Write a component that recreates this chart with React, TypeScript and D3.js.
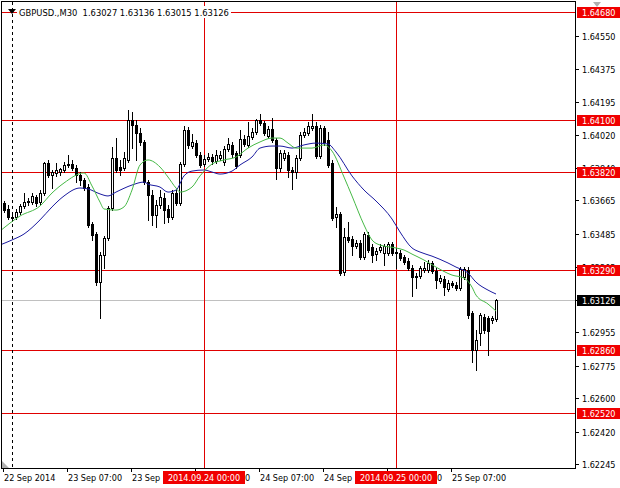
import React from 'react';
import * as d3 from 'd3';

const W = 620;
const H = 488;

const symbolTitle = 'GBPUSD.,M30  1.63027 1.63136 1.63015 1.63126';

const candleOpen = [
  1.63651,1.63619,1.63576,1.63576,1.63603,1.63635,1.63656,1.63656,1.63683,1.63656,
  1.63705,1.63867,1.63802,1.63813,1.63818,1.63829,1.63856,1.63861,1.63840,1.63802,
  1.63775,1.63737,1.63538,1.63484,1.63225,1.63371,1.63462,1.63624,1.63893,1.63845,
  1.63840,1.63883,1.64098,1.64071,1.64028,1.63980,1.63764,1.63694,1.63586,1.63640,
  1.63678,1.63619,1.63576,1.63705,1.63651,1.63861,1.64044,1.63958,1.63974,1.63910,
  1.63861,1.63888,1.63899,1.63877,1.63893,1.63872,1.63942,1.63964,1.63920,1.63910,
  1.63996,1.63964,1.64007,1.64034,1.64098,1.64082,1.64012,1.64050,1.63990,1.63840,
  1.63893,1.63910,1.63829,1.63818,1.63893,1.64017,1.64028,1.64055,1.64066,1.63904,
  1.64055,1.63990,1.63867,1.63576,1.63592,1.63279,1.63468,1.63457,1.63419,1.63436,
  1.63360,1.63479,1.63414,1.63376,1.63398,1.63382,1.63382,1.63430,1.63387,1.63382,
  1.63360,1.63339,1.63301,1.63252,1.63258,1.63290,1.63290,1.63328,1.63285,1.63231,
  1.63242,1.63188,1.63220,1.63209,1.63193,1.63252,1.63290,1.63058,1.62859,1.62951,
  1.63037,1.63031,1.63021,1.63027,
];
const candleHigh = [
  1.63662,1.63640,1.63592,1.63619,1.63646,1.63705,1.63678,1.63705,1.63694,1.63721,
  1.63872,1.63883,1.63829,1.63867,1.63840,1.63872,1.63910,1.63883,1.63856,1.63818,
  1.63786,1.63753,1.63549,1.63495,1.63387,1.63473,1.63635,1.63953,1.64001,1.63883,
  1.63926,1.64152,1.64141,1.64098,1.64055,1.63990,1.63775,1.63721,1.63667,1.63721,
  1.63705,1.63640,1.63721,1.63721,1.63872,1.64066,1.64060,1.64023,1.63990,1.63926,
  1.63910,1.63920,1.63915,1.63937,1.63931,1.63958,1.64001,1.63980,1.63931,1.64044,
  1.64017,1.64087,1.64055,1.64104,1.64131,1.64093,1.64066,1.64109,1.64001,1.63937,
  1.63937,1.63926,1.63845,1.63910,1.64034,1.64055,1.64087,1.64131,1.64087,1.64071,
  1.64066,1.64034,1.63883,1.63630,1.63603,1.63516,1.63549,1.63473,1.63452,1.63452,
  1.63495,1.63495,1.63430,1.63409,1.63430,1.63430,1.63441,1.63441,1.63409,1.63398,
  1.63371,1.63355,1.63317,1.63274,1.63312,1.63333,1.63344,1.63339,1.63301,1.63263,
  1.63258,1.63236,1.63231,1.63225,1.63306,1.63306,1.63306,1.63069,1.62967,1.63058,
  1.63053,1.63042,1.63042,1.63136,
];
const candleLow = [
  1.63603,1.63565,1.63554,1.63565,1.63592,1.63624,1.63640,1.63646,1.63635,1.63646,
  1.63694,1.63791,1.63732,1.63797,1.63802,1.63818,1.63845,1.63829,1.63764,1.63748,
  1.63721,1.63522,1.63452,1.63209,1.63031,1.63301,1.63452,1.63613,1.63818,1.63802,
  1.63829,1.63872,1.63947,1.63883,1.63964,1.63753,1.63560,1.63533,1.63522,1.63624,
  1.63543,1.63549,1.63565,1.63640,1.63640,1.63850,1.63947,1.63947,1.63899,1.63845,
  1.63850,1.63877,1.63861,1.63867,1.63883,1.63856,1.63931,1.63899,1.63840,1.63899,
  1.63958,1.63953,1.63996,1.64023,1.64071,1.64017,1.64001,1.63980,1.63780,1.63823,
  1.63883,1.63791,1.63727,1.63786,1.63883,1.64007,1.64017,1.64044,1.63893,1.63893,
  1.63964,1.63845,1.63560,1.63522,1.63263,1.63263,1.63441,1.63371,1.63409,1.63349,
  1.63349,1.63387,1.63333,1.63344,1.63387,1.63317,1.63371,1.63371,1.63301,1.63344,
  1.63322,1.63290,1.63150,1.63193,1.63247,1.63279,1.63279,1.63274,1.63193,1.63220,
  1.63155,1.63177,1.63198,1.63182,1.63182,1.63242,1.63031,1.62795,1.62751,1.62886,
  1.62951,1.62832,1.63005,1.63015,
];
const candleClose = [
  1.63613,1.63576,1.63570,1.63603,1.63635,1.63656,1.63662,1.63689,1.63651,1.63705,
  1.63867,1.63802,1.63818,1.63829,1.63834,1.63856,1.63861,1.63840,1.63802,1.63775,
  1.63732,1.63533,1.63479,1.63225,1.63371,1.63462,1.63624,1.63893,1.63829,1.63829,
  1.63893,1.64098,1.64071,1.64028,1.63980,1.63764,1.63694,1.63586,1.63640,1.63683,
  1.63613,1.63576,1.63705,1.63651,1.63861,1.64044,1.63964,1.63980,1.63910,1.63856,
  1.63888,1.63899,1.63877,1.63910,1.63910,1.63942,1.63969,1.63915,1.63850,1.63996,
  1.63969,1.64012,1.64034,1.64098,1.64082,1.64028,1.64050,1.63990,1.63840,1.63920,
  1.63920,1.63829,1.63818,1.63893,1.64017,1.64034,1.64066,1.64066,1.63904,1.64055,
  1.63980,1.63856,1.63570,1.63592,1.63274,1.63468,1.63452,1.63419,1.63436,1.63360,
  1.63484,1.63398,1.63371,1.63392,1.63414,1.63419,1.63430,1.63382,1.63382,1.63355,
  1.63333,1.63301,1.63252,1.63258,1.63301,1.63301,1.63328,1.63285,1.63236,1.63247,
  1.63198,1.63220,1.63209,1.63193,1.63295,1.63295,1.63048,1.62859,1.62913,1.63048,
  1.62967,1.62961,1.63031,1.63126,
];

// moving averages, read at selected bar indices
const fastMaBars = [-1,4,9,12,15,20,22,24,25,28,30,32,34,36,39,41,43,44,47,49,52,55,58,61,64,67,69,71,73,77,80,82,85,87,90,92,94,98,100,102,105,108,112,115,117,118,121,123];
const fastMaValues = [1.63500,1.63581,1.63635,1.63705,1.63759,1.63813,1.63743,1.63656,1.63619,1.63613,1.63630,1.63721,1.63856,1.63883,1.63845,1.63791,1.63732,1.63710,1.63737,1.63797,1.63861,1.63883,1.63899,1.63947,1.63980,1.64001,1.64001,1.63974,1.63947,1.63947,1.63964,1.63931,1.63791,1.63689,1.63533,1.63452,1.63425,1.63409,1.63398,1.63376,1.63344,1.63306,1.63263,1.63247,1.63198,1.63155,1.63107,1.63069];
const slowMaBars = [-1,2,5,9,12,15,19,21,24,26,28,32,35,36,39,41,43,45,47,50,52,54,57,59,62,64,67,69,72,75,78,81,83,87,90,93,97,99,102,104,107,111,113,116,118,121,123];
const slowMaValues = [1.63425,1.63452,1.63484,1.63560,1.63630,1.63689,1.63732,1.63727,1.63700,1.63689,1.63710,1.63748,1.63764,1.63753,1.63737,1.63710,1.63721,1.63797,1.63823,1.63829,1.63818,1.63807,1.63823,1.63856,1.63899,1.63947,1.63958,1.63958,1.63947,1.63964,1.63974,1.63969,1.63926,1.63797,1.63721,1.63662,1.63565,1.63495,1.63409,1.63387,1.63365,1.63328,1.63306,1.63274,1.63225,1.63182,1.63161];

const priceTicks = [1.6455, 1.64375, 1.64195, 1.6402, 1.6384, 1.63665, 1.63485, 1.63305, 1.6313, 1.62955, 1.62775, 1.626, 1.6242, 1.62245];
const levelLines = [1.6468, 1.641, 1.6382, 1.6329, 1.6286, 1.6252];
const bidPrice = 1.63126;

const timeTickBars = [0, 16, 32, 48, 64, 80, 96, 112];
const timeTickLabels = ['22 Sep 2014', '23 Sep 07:00', '23 Sep 15:00', '23 Sep 23:00', '24 Sep 07:00', '24 Sep 15:00', '24 Sep 23:00', '25 Sep 07:00'];
const dayLineBars = [50, 98];
const dayLineLabels = ['2014.09.24 00:00', '2014.09.25 00:00'];

const FONT = "Tahoma, 'DejaVu Sans Condensed', 'Liberation Sans', Arial, sans-serif";
const LINE_RED = '#e00000';
const BOX_RED = '#f00000';

export default function App() {
  const plotL = 2, plotR = 575, plotT = 2, plotB = 468;
  const x = d3.scaleLinear().domain([0, 123]).range([4, 496]);
  const y = d3.scaleLinear().domain([1.6468, 1.6252]).range([12, 413]);
  const py = (v: number) => Math.round(y(v));

  const fastLine = d3.line<number>()
    .x((_, i) => x(fastMaBars[i]))
    .y((d) => y(d))
    .curve(d3.curveMonotoneX)(fastMaValues) || '';
  const slowLine = d3.line<number>()
    .x((_, i) => x(slowMaBars[i]))
    .y((d) => y(d))
    .curve(d3.curveMonotoneX)(slowMaValues) || '';

  const candles = candleOpen.map((o, i) => {
    const c = candleClose[i];
    const h = candleHigh[i];
    const l = candleLow[i];
    const cx = Math.round(x(i));
    const top = py(Math.max(o, c));
    const bot = py(Math.min(o, c));
    const bull = c > o;
    return (
      <g key={i}>
        <line x1={cx + 0.5} x2={cx + 0.5} y1={py(h)} y2={py(l) + 1} stroke="#000" strokeWidth={1} />
        {bull ? (
          <rect x={cx - 0.5} y={top + 0.5} width={2} height={Math.max(1, bot - top)} fill="#fff" stroke="#000" strokeWidth={1} />
        ) : (
          <rect x={cx - 1} y={top} width={3} height={Math.max(1, bot - top + 1)} fill="#000" />
        )}
      </g>
    );
  });

  return (
    <svg width={W} height={H} style={{ position: 'absolute', left: 0, top: 0, display: 'block', background: '#fff' }} fontFamily={FONT}>
      <defs>
        <clipPath id="plot">
          <rect x={plotL} y={plotT} width={plotR - plotL} height={plotB - plotT} />
        </clipPath>
      </defs>
      <rect x={0} y={0} width={W} height={H} fill="#fff" />

      <g clipPath="url(#plot)">
        {/* bid line */}
        <line x1={plotL} x2={plotR} y1={py(bidPrice) + 0.5} y2={py(bidPrice) + 0.5} stroke="#c0c0c0" strokeWidth={1} />
        {/* horizontal levels */}
        {levelLines.map((v) => (
          <line key={v} x1={0} x2={plotR + 2} y1={py(v) + 0.5} y2={py(v) + 0.5} stroke={LINE_RED} strokeWidth={1} />
        ))}
        {/* day separators */}
        {dayLineBars.map((b) => (
          <line key={b} x1={Math.round(x(b)) + 0.5} x2={Math.round(x(b)) + 0.5} y1={0} y2={plotB} stroke={LINE_RED} strokeWidth={1} />
        ))}
        {candles}
        <path d={slowLine} fill="none" stroke="#1a1aa0" strokeWidth={1} />
        <path d={fastLine} fill="none" stroke="#46b946" strokeWidth={1} />
        {/* dashed shift line */}
        <line x1={12.5} x2={12.5} y1={plotT} y2={plotB} stroke="#000" strokeWidth={1} strokeDasharray="3,3" />
      </g>

      {/* title */}
      <rect x={17} y={6} width={214} height={12} fill="#fff" />
      <polygon points="8,9 16,9 12,14" fill="#000" />
      <text x={19} y={12} dominantBaseline="central" fontSize={9.3} fill="#000" style={{ whiteSpace: 'pre' }}>{symbolTitle}</text>

      {/* frame */}
      <line x1={1.5} x2={1.5} y1={1} y2={plotB + 1} stroke="#000" strokeWidth={1} />
      <line x1={1} x2={plotR + 1} y1={1.5} y2={1.5} stroke="#000" strokeWidth={1} />
      <line x1={plotR + 0.5} x2={plotR + 0.5} y1={1} y2={plotB + 1} stroke="#000" strokeWidth={1} />
      <line x1={1} x2={plotR + 1} y1={plotB + 0.5} y2={plotB + 0.5} stroke="#000" strokeWidth={1} />
      <polygon points={`2,${plotB} 2,${plotB - 7} 9,${plotB}`} fill="#b0b0b0" />
      <polygon points="593,2 601,2 597,7" fill="#b0b0b0" />

      {/* price axis */}
      {priceTicks.map((v) => (
        <g key={v}>
          <line x1={plotR + 1} x2={plotR + 4} y1={py(v) + 0.5} y2={py(v) + 0.5} stroke="#000" strokeWidth={1} />
          <text x={582} y={py(v) + 0.5} dominantBaseline="central" fontSize={9} fill="#000">{v.toFixed(5)}</text>
        </g>
      ))}
      {levelLines.map((v) => (
        <g key={v}>
          <rect x={577} y={py(v) - 5} width={43} height={11} fill={BOX_RED} />
          <text x={582} y={py(v) + 0.5} dominantBaseline="central" fontSize={9} fill="#fff">{v.toFixed(5)}</text>
        </g>
      ))}
      <rect x={577} y={py(bidPrice) - 5} width={43} height={11} fill="#000" />
      <text x={582} y={py(bidPrice) + 0.5} dominantBaseline="central" fontSize={9} fill="#fff">{bidPrice.toFixed(5)}</text>

      {/* time axis */}
      {timeTickBars.map((b, i) => (
        <g key={b}>
          <line x1={Math.round(x(b)) - 0.5} x2={Math.round(x(b)) - 0.5} y1={plotB} y2={plotB + 4} stroke="#000" strokeWidth={1} />
          <text x={Math.round(x(b))} y={478} dominantBaseline="central" fontSize={9} fill="#000">{timeTickLabels[i]}</text>
        </g>
      ))}
      {dayLineBars.map((b, i) => (
        <g key={b}>
          <rect x={Math.round(x(b)) - 41} y={471} width={82} height={13} fill={BOX_RED} />
          <text x={Math.round(x(b))} y={478} textAnchor="middle" dominantBaseline="central" fontSize={9} fill="#fff">{dayLineLabels[i]}</text>
        </g>
      ))}
    </svg>
  );
}
